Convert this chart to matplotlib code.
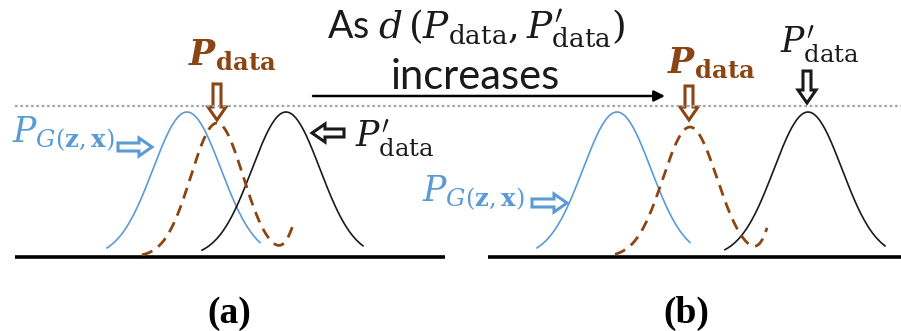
import numpy as np
import matplotlib.pyplot as plt

W, H = 901, 331

BLUE = '#5b9bd5'
BROWN = '#8b4513'
BLACK = '#1a1a1a'

# curves: (center, sigma, peak_y, x_from, x_to) in pixel space, baseline y below
blue_curves = [(187, 34, 112, 107, 260), (617, 34, 112, 537, 690)]
black_curves = [(286, 34, 112, 202, 363), (808, 34, 112, 725, 885)]
# brown: main bump + small second bump that is cut off
brown_curves = [(217, 26, 123, 142, 293, 310, 12.7, 74),
                (690, 27, 127, 615, 767, 785, 12.0, 83)]
curve_base = 257

baselines = [(15, 445), (488, 901)]
base_y = 257
dotted_y = 106

# hollow arrows: x, y, dx, dy, colour
block_arrows = [
    (118, 147, 34, 0, BLUE),
    (344, 133, -32, 0, BLACK),
    (217, 84, 0, 36, BROWN),
    (532, 203, 35, 0, BLUE),
    (689, 86, 0, 34, BROWN),
    (807, 71, 0, 32, BLACK),
]

plt.rcParams['mathtext.fontset'] = 'dejavuserif'
fig = plt.figure(figsize=(W / 100, H / 100), dpi=100)
ax = fig.add_axes([0, 0, 1, 1])
ax.set_xlim(0, W)
ax.set_ylim(H, 0)
ax.axis('off')


def gauss(x, c, s):
    return np.exp(-(x - c) ** 2 / (2 * s ** 2))


ax.plot([15, W], [dotted_y, dotted_y], color='#a6a6a6', lw=1.6, ls=(0, (1.2, 1.2)))
for x0, x1 in baselines:
    ax.plot([x0, x1], [base_y, base_y], color='black', lw=2.6, solid_capstyle='butt')

for c, s, py, a, b in blue_curves:
    x = np.linspace(a, b, 200)
    ax.plot(x, curve_base - (curve_base - py) * gauss(x, c, s), color=BLUE, lw=1.2)
for c, s, py, a, b in black_curves:
    x = np.linspace(a, b, 200)
    ax.plot(x, curve_base - (curve_base - py) * gauss(x, c, s), color=BLACK, lw=1.2)
for c, s, py, a, b, c2, s2, a2 in brown_curves:
    x = np.linspace(a, b, 200)
    y = curve_base - (curve_base - py) * gauss(x, c, s) - a2 * gauss(x, c2, s2)
    ax.plot(x, y, color=BROWN, lw=2, ls=(0, (4, 2.6)))

for x, y, dx, dy, col in block_arrows:
    ax.arrow(x, y, dx, dy, width=8, head_width=18, head_length=13,
             length_includes_head=True, fc='white', ec=col, lw=2.2)

# main arrow
ax.annotate('', xy=(665, 96), xytext=(313, 96),
            arrowprops=dict(arrowstyle='-|>', color='black', lw=1.8,
                            mutation_scale=16, shrinkA=0, shrinkB=0))

fs = 25
ax.text(188, 65, r'$\mathbfit{P}_{\mathbf{data}}$', color=BROWN, fontsize=fs, va='baseline')
ax.text(667, 73, r'$\mathbfit{P}_{\mathbf{data}}$', color=BROWN, fontsize=fs, va='baseline')
ax.text(355, 147, r"$P^{\prime}_{\mathrm{data}}$", color=BLACK, fontsize=fs, va='baseline')
ax.text(780, 53, r"$P^{\prime}_{\mathrm{data}}$", color=BLACK, fontsize=fs, va='baseline')
ax.text(12, 143, r'$P_{G(\mathbf{z},\mathbf{x})}$', color=BLUE, fontsize=fs, va='baseline')
ax.text(422, 202, r'$P_{G(\mathbf{z},\mathbf{x})}$', color=BLUE, fontsize=fs, va='baseline')

ax.text(327, 39, r"As $d\,(P_{\mathrm{data}}, P^{\prime}_{\mathrm{data}})$", fontsize=27,
        family='Lato', va='baseline', color=BLACK)
ax.text(475, 89, 'increases', fontsize=30, family='Lato', va='baseline',
        ha='center', color=BLACK)

ax.text(229, 323, '(a)', fontsize=27, family='Liberation Serif', weight='bold',
        ha='center', va='baseline')
ax.text(686, 323, '(b)', fontsize=27, family='Liberation Serif', weight='bold',
        ha='center', va='baseline')

fig.savefig('out.png', dpi=100)
